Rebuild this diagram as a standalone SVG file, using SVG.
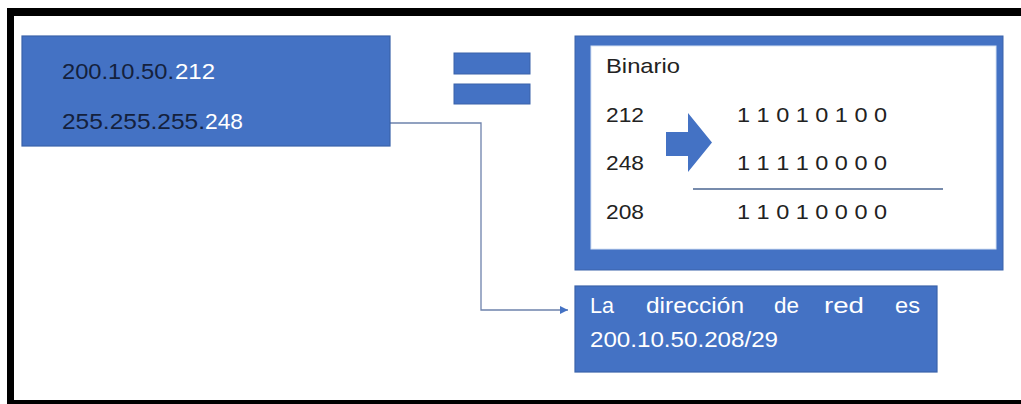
<svg xmlns="http://www.w3.org/2000/svg" width="1021" height="404" viewBox="0 0 1021 404">
  <style>
    .box { fill: #4472C4; stroke: #3A63AA; stroke-width: 1.2; }
    .t { font-family: "Liberation Sans", Arial, sans-serif; font-size: 22px; }
    .dark { fill: #14213D; }
    .white { fill: #FFFFFF; }
    .ink { fill: #222222; font-size: 21px; }
    .conn { fill: none; stroke: #6E82AC; stroke-width: 1.3; }
  </style>
  <defs>
    <marker id="arrow" viewBox="0 0 10 10" refX="10" refY="5" markerWidth="8" markerHeight="8" markerUnits="userSpaceOnUse" orient="auto">
      <path d="M0,0 L10,5 L0,10 z" fill="#4472C4"/>
    </marker>
  </defs>

  <!-- page frame -->
  <rect x="0" y="0" width="1021" height="404" fill="#FFFFFF"/>
  <g id="frame" fill="#000000">
    <rect x="7" y="8" width="1014" height="8"/>
    <rect x="7" y="8" width="7" height="396"/>
    <rect x="7" y="400" width="1014" height="4"/>
  </g>

  <!-- connectors -->
  <g id="connectors">
    <path class="conn" d="M390,123 H481 V310 H568" marker-end="url(#arrow)"/>
  </g>

  <!-- address and mask -->
  <g id="node-input">
    <rect class="box" x="22" y="36" width="368" height="110"/>
    <text class="t dark" x="62" y="79" textLength="112" lengthAdjust="spacingAndGlyphs">200.10.50.</text>
    <text class="t white" x="175" y="79" textLength="40" lengthAdjust="spacingAndGlyphs">212</text>
    <text class="t dark" x="62" y="129" textLength="143" lengthAdjust="spacingAndGlyphs">255.255.255.</text>
    <text class="t white" x="205" y="129" textLength="38" lengthAdjust="spacingAndGlyphs">248</text>
  </g>

  <!-- equals sign -->
  <g id="node-equals" fill="#4472C4" stroke="#3A63AA" stroke-width="1">
    <rect x="454" y="53" width="76" height="21"/>
    <rect x="454" y="84" width="76" height="20"/>
  </g>

  <!-- binary AND -->
  <g id="node-binary">
    <rect x="575" y="36" width="428" height="234" fill="#4472C4" stroke="#3A63AA" stroke-width="1"/>
    <rect x="591" y="46" width="405" height="203" fill="#FFFFFF" stroke="#D6E2F4" stroke-width="1"/>
    <text class="t ink" x="606" y="73" textLength="74" lengthAdjust="spacingAndGlyphs">Binario</text>
    <text class="t ink" x="606" y="122" textLength="38" lengthAdjust="spacingAndGlyphs">212</text>
    <text class="t ink" x="606" y="170" textLength="38" lengthAdjust="spacingAndGlyphs">248</text>
    <text class="t ink" x="606" y="219" textLength="38" lengthAdjust="spacingAndGlyphs">208</text>
    <text class="t ink" x="737" y="122" textLength="150" lengthAdjust="spacingAndGlyphs">1 1 0 1 0 1 0 0</text>
    <text class="t ink" x="737" y="170" textLength="150" lengthAdjust="spacingAndGlyphs">1 1 1 1 0 0 0 0</text>
    <text class="t ink" x="737" y="219" textLength="150" lengthAdjust="spacingAndGlyphs">1 1 0 1 0 0 0 0</text>
    <line x1="693" y1="189" x2="943" y2="189" stroke="#4A6590" stroke-width="1.3"/>
    <path d="M666,132 H688 V113 L712,142.5 L688,172 V156 H666 z" fill="#4472C4"/>
  </g>

  <!-- result -->
  <g id="node-result">
    <rect class="box" x="575" y="286" width="362" height="86"/>
    <text class="t white" x="590" y="313" textLength="24" lengthAdjust="spacingAndGlyphs">La</text>
    <text class="t white" x="646" y="313" textLength="98" lengthAdjust="spacingAndGlyphs">dirección</text>
    <text class="t white" x="774" y="313" textLength="25" lengthAdjust="spacingAndGlyphs">de</text>
    <text class="t white" x="824" y="313" textLength="40" lengthAdjust="spacingAndGlyphs">red</text>
    <text class="t white" x="895" y="313" textLength="25" lengthAdjust="spacingAndGlyphs">es</text>
    <text class="t white" x="590" y="347" textLength="188" lengthAdjust="spacingAndGlyphs">200.10.50.208/29</text>
  </g>
</svg>
